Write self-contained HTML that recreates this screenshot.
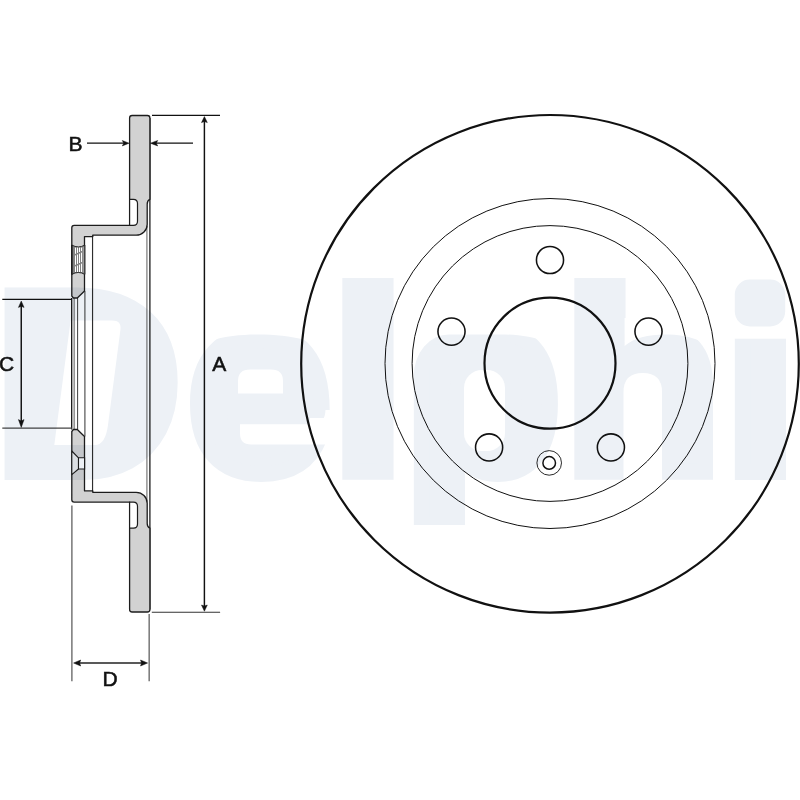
<!DOCTYPE html>
<html lang="en">
<head>
<meta charset="utf-8">
<title>Delphi brake disc dimensions</title>
<style>
html,body{margin:0;padding:0;background:#fff;}
body{width:800px;height:800px;overflow:hidden;position:relative;font-family:"Liberation Sans",sans-serif;}
svg{position:absolute;left:0;top:0;display:block;}
.lbl{font-family:"Liberation Sans",sans-serif;font-size:21px;fill:#111;stroke:#111;stroke-width:0.55;}
.wm{font-family:"Liberation Sans",sans-serif;font-weight:bold;font-size:256px;fill:#edf1f6;stroke:#edf1f6;stroke-width:16;stroke-linejoin:miter;}
#wmlayer{mix-blend-mode:multiply;}
</style>
</head>
<body>
<svg id="draw" width="800" height="800" viewBox="0 0 800 800">
<defs>
  <!-- half section (top half); reused mirrored for bottom -->
  <g id="half">
    <!-- gray body -->
    <path d="M132.1 115.5 H147.4 Q149.9 115.5 149.9 118 V199.4 Q147.2 200.5 147.2 204 V224.2 A11 11 0 0 1 136.2 235.2 H92.75 V236.6 H84.5 V291 L77.3 298 H73.4 L71.8 296 V227.8 Q71.8 225.4 74.2 225.4 H129.6 V118 Q129.6 115.5 132.1 115.5 Z" fill="#d2d2d2" stroke="#1c1c1c" stroke-width="1.3" stroke-linejoin="round"/>
    <!-- relief groove -->
    <path d="M129.6 199.4 H133.4 Q137.5 199.4 137.5 203.5 V221.2 Q137.5 225.4 133.4 225.4 H129.6 Z" fill="#fff" stroke="#1c1c1c" stroke-width="1.2" stroke-linejoin="round"/>
  </g>
</defs>

<!-- front view -->
<g fill="none" stroke="#111">
  <circle cx="550" cy="363.8" r="248.8" stroke-width="2.2"/>
  <circle cx="550" cy="363.5" r="165" stroke-width="1"/>
  <circle cx="550" cy="363.5" r="137.9" stroke-width="1"/>
  <circle cx="550" cy="363.2" r="65.5" stroke-width="2.2"/>
  <g stroke-width="1.55">
    <circle cx="550.0" cy="260.0" r="13.55"/>
    <circle cx="648.5" cy="331.6" r="13.55"/>
    <circle cx="610.9" cy="447.4" r="13.55"/>
    <circle cx="489.1" cy="447.4" r="13.55"/>
    <circle cx="451.5" cy="331.6" r="13.55"/>
  </g>
  <circle cx="549.2" cy="462.9" r="12.3" stroke-width="0.9"/>
  <circle cx="549.2" cy="462.9" r="6.3" stroke-width="1.5"/>
</g>

<!-- side section -->
<g id="section">
  <!-- through lines -->
  <g fill="none">
    <line x1="149.9" y1="118" x2="149.9" y2="609.5" stroke="#1c1c1c" stroke-width="1.3"/>
    <line x1="146.9" y1="226" x2="146.9" y2="501.5" stroke="#7e7e7e" stroke-width="1.25"/>
    <line x1="92.55" y1="235.2" x2="92.55" y2="492.3" stroke="#2e2e2e" stroke-width="1.15"/>
    <line x1="84.85" y1="291" x2="84.85" y2="436.5" stroke="#868686" stroke-width="1.7"/>
    <line x1="77.55" y1="298" x2="77.55" y2="429.5" stroke="#505050" stroke-width="1.15"/>
    <line x1="73.1" y1="298" x2="73.1" y2="429.5" stroke="#c2c2c2" stroke-width="1.5"/>
    <line x1="74.4" y1="298" x2="74.4" y2="429.5" stroke="#969696" stroke-width="1.3"/>
    <line x1="71.6" y1="298" x2="71.6" y2="429.5" stroke="#1c1c1c" stroke-width="1.25"/>
  </g>
  <use href="#half"/>
  <use href="#half" transform="translate(0,727.5) scale(1,-1)"/>
  <!-- threaded hole (top) -->
  <g>
    <path d="M71.8 245 Q78.3 248.8 84.9 245 V274.4 Q78.3 270.6 71.8 274.4 Z" fill="#808080" stroke="#1c1c1c" stroke-width="0.9"/>
    <g stroke="#fff" stroke-width="1">
      <line x1="75.5" y1="247.6" x2="75.5" y2="253.8"/>
      <line x1="75.5" y1="255.4" x2="75.5" y2="264.8"/>
      <line x1="75.5" y1="266.4" x2="75.5" y2="272.0"/>
      <line x1="77.5" y1="247.6" x2="77.5" y2="252.9"/>
      <line x1="77.5" y1="254.5" x2="77.5" y2="263.9"/>
      <line x1="77.5" y1="265.5" x2="77.5" y2="272.0"/>
      <line x1="79.5" y1="247.6" x2="79.5" y2="252.0"/>
      <line x1="79.5" y1="253.6" x2="79.5" y2="263.0"/>
      <line x1="79.5" y1="264.6" x2="79.5" y2="272.0"/>
      <line x1="81.5" y1="247.6" x2="81.5" y2="251.1"/>
      <line x1="81.5" y1="252.7" x2="81.5" y2="262.1"/>
      <line x1="81.5" y1="263.7" x2="81.5" y2="272.0"/>
    </g>
    <line x1="83.2" y1="247" x2="83.2" y2="272.4" stroke="#c8c8c8" stroke-width="0.6"/>
    <line x1="71.8" y1="245" x2="71.8" y2="274.4" stroke="#1c1c1c" stroke-width="1.5"/>
  </g>
  <!-- countersunk hole (bottom) -->
  <g>
    <path d="M71.8 451 L78.5 457.8 V469 L71.8 474.6 Z" fill="#ececec" stroke="#1c1c1c" stroke-width="1.1" stroke-linejoin="round"/>
    <path d="M78.5 457.8 H84.6 V469 H78.5 Z" fill="#fff" stroke="#1c1c1c" stroke-width="1.1"/>
  </g>
</g>

<!-- dimensions -->
<g id="dims" fill="none">
  <!-- A -->
  <line x1="152" y1="115.4" x2="220" y2="115.4" stroke="#111" stroke-width="1.25"/>
  <line x1="151.8" y1="612.2" x2="220.1" y2="612.2" stroke="#333" stroke-width="1.15"/>
  <line x1="204.4" y1="120" x2="204.4" y2="607" stroke="#111" stroke-width="1.45"/>
  <!-- B -->
  <line x1="87" y1="143.2" x2="124" y2="143.2" stroke="#111" stroke-width="1.3"/>
  <line x1="156" y1="143.2" x2="193" y2="143.2" stroke="#111" stroke-width="1.3"/>
  <!-- C -->
  <line x1="2.3" y1="299.35" x2="72" y2="299.35" stroke="#111" stroke-width="1.25"/>
  <line x1="2.3" y1="428.1" x2="72" y2="428.1" stroke="#444" stroke-width="1.25"/>
  <line x1="21.25" y1="305" x2="21.25" y2="422" stroke="#111" stroke-width="1.45"/>
  <!-- D -->
  <line x1="71.9" y1="505.5" x2="71.9" y2="681.3" stroke="#555" stroke-width="1.2"/>
  <line x1="149.15" y1="614" x2="149.15" y2="681.3" stroke="#555" stroke-width="1.2"/>
  <line x1="78" y1="663" x2="143" y2="663" stroke="#222" stroke-width="1.6"/>
</g>
<g id="arrows" fill="#111" stroke="#111" stroke-width="0.5" stroke-linejoin="miter">
  <path d="M204.40 116.60 L207.30 122.60 L204.40 121.50 L201.50 122.60 Z"/>
  <path d="M204.40 611.20 L201.50 605.00 L204.40 606.10 L207.30 605.00 Z"/>
  <path d="M129.00 143.20 L122.30 145.90 L123.80 143.20 L122.30 140.50 Z"/>
  <path d="M150.40 143.20 L157.70 140.50 L156.20 143.20 L157.70 145.90 Z"/>
  <path d="M21.25 301.10 L24.05 307.40 L21.25 306.30 L18.45 307.40 Z"/>
  <path d="M21.25 427.40 L18.45 419.60 L21.25 421.10 L24.05 419.60 Z"/>
  <path d="M73.60 663.00 L80.70 660.00 L79.60 663.00 L80.70 666.00 Z"/>
  <path d="M147.60 663.00 L140.50 666.00 L141.60 663.00 L140.50 660.00 Z"/>
</g>
<g class="lbl">
  <text x="68.6" y="150.6">B</text>
  <text x="212.2" y="371">A</text>
  <text x="-1.1" y="371.1">C</text>
  <text x="102.4" y="685.7">D</text>
</g>
</svg>

<!-- watermark overlay -->
<svg id="wmlayer" width="800" height="800" viewBox="0 0 800 800">
  <g clip-path="url(#wmclip2)">
    <clipPath id="wmclip2"><rect x="0" y="270" width="800" height="255"/></clipPath>
    <text class="wm" y="472" x="-4.5 188 332.5 404 564.5 725">Delphi</text>
    <!-- slanted counter of the logo D -->
    <rect x="40" y="306" width="92" height="156" fill="#edf1f6"/>
    <path d="M70.6 320.6 H112 Q121.8 320.6 120.4 330 L108 425 Q105.4 445 95 445 H54.3 Z" fill="#fff"/>
    <!-- rounded shoulder of p, rounded dot of i -->
    <path d="M405 318 H570 V362 C563 342 530 334.4 500 334.4 H449 A35.2 41.6 0 0 0 413.8 376 H405 Z" fill="#fff"/>
    <!-- counter and open aperture of e -->
    <rect x="230" y="356" width="80" height="94" fill="#edf1f6"/>
    <path d="M238 393.5 V381 Q238 369.5 250 369.5 H271 Q283 369.5 283 381 V393.5 Z" fill="#fff"/>
    <path d="M240 424.3 H313 Q325 424.3 325.5 410 H334 V444.5 H251 Q240 444.5 240 433.5 Z" fill="#fff"/>
    <!-- flatter x-height tops of e and h -->
    <path d="M185 318 H332 V362 C325 340 290 334.5 258.5 334.5 C227 334.5 192 340 185 362 Z" fill="#fff"/>
    <path d="M624.6 318 H720 V362 C714 342 690 334.5 665 334.5 C648 334.5 634 338 624.6 346 Z" fill="#fff"/>
    <!-- counters of p and h -->
    <rect x="458" y="352" width="54" height="118" fill="#edf1f6"/>
    <rect x="464" y="370" width="41" height="81" rx="18" ry="18" fill="#fff"/>
    <rect x="619" y="352" width="48" height="50" fill="#edf1f6"/>
    <path d="M623.5 484 V392 Q623.5 373 642.7 373 Q662 373 662 392 V484 Z" fill="#fff"/>
    <rect x="728" y="270" width="66" height="68.7" fill="#fff"/>
    <rect x="734.8" y="279.6" width="50.4" height="46.8" rx="15" ry="15" fill="#edf1f6"/>
  </g>
</svg>
</body>
</html>
